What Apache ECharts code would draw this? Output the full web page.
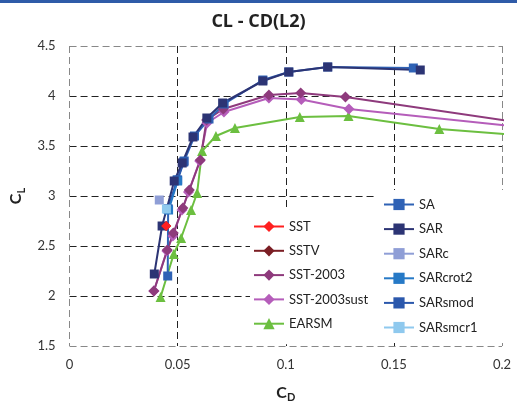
<!DOCTYPE html>
<html>
<head>
<meta charset="utf-8">
<script src="https://cdn.jsdelivr.net/npm/echarts@6/dist/echarts.min.js"></script>
<style>
  html, body { margin: 0; padding: 0; background: #fff; }
  #chart { width: 517px; height: 408px; }
</style>
</head>
<body>
<div id="chart"></div>
<script>
// Lift coefficient C_L vs drag coefficient C_D for each turbulence model.
// Each point is [C_D, C_L].
const sst        = [[0.0447, 2.70]];
const sstv       = [[0.0447, 2.70]];
const sst2003    = [[0.0390, 2.05], [0.0452, 2.46], [0.0480, 2.63], [0.0524, 2.88], [0.0554, 3.06],
                    [0.0605, 3.36], [0.0634, 3.76], [0.0711, 3.87], [0.0922, 4.01], [0.1069, 4.03],
                    [0.1276, 3.99], [0.2300, 3.665]];
const sst2003sust = [[0.0390, 2.05], [0.0450, 2.45], [0.0478, 2.60], [0.0520, 2.86], [0.0550, 3.04],
                    [0.0602, 3.35], [0.0636, 3.73], [0.0714, 3.84], [0.0922, 3.98], [0.1072, 3.965],
                    [0.1292, 3.87], [0.2300, 3.64]];
const earsm      = [[0.0421, 1.99], [0.0482, 2.42], [0.0516, 2.58], [0.0562, 2.86], [0.0590, 3.03],
                    [0.0613, 3.45], [0.0677, 3.60], [0.0765, 3.68], [0.1065, 3.79], [0.1290, 3.80],
                    [0.1710, 3.67], [0.2300, 3.57]];
const sa         = [[0.0454, 2.20], [0.0456, 2.87], [0.0497, 3.16], [0.0530, 3.35], [0.0578, 3.60],
                    [0.0645, 3.77], [0.0715, 3.92], [0.0894, 4.16], [0.1014, 4.24], [0.1194, 4.29],
                    [0.1590, 4.28]];
const sar        = [[0.0392, 2.22], [0.0428, 2.70], [0.0484, 3.15], [0.0521, 3.33], [0.0571, 3.59],
                    [0.0635, 3.78], [0.0708, 3.93], [0.0894, 4.15], [0.1014, 4.24], [0.1194, 4.29],
                    [0.1622, 4.26]];
const sarc       = [[0.0415, 2.96]];
const sarcrot2   = [[0.0458, 2.86], [0.0500, 3.15]];
const sarsmod    = [[0.0455, 2.87], [0.0500, 3.16], [0.0528, 3.34]];
const sarsmcr1   = [[0.0448, 2.87]];

const xTicks = [0, 0.05, 0.1, 0.15, 0.2];
const yTicks = [1.5, 2, 2.5, 3, 3.5, 4, 4.5];

const legendLeft  = ['SST', 'SSTV', 'SST-2003', 'SST-2003sust', 'EARSM'];
const legendRight = ['SA', 'SAR', 'SARc', 'SARcrot2', 'SARsmod', 'SARsmcr1'];

const FONT = 'Lato, "Open Sans", sans-serif';

function lineSeries(name, data, color, symbol, size) {
  return {
    name: name,
    type: 'line',
    data: data,
    symbol: symbol,
    symbolSize: size,
    showAllSymbol: true,
    lineStyle: { color: color, width: 2 },
    itemStyle: { color: color },
    emphasis: { disabled: true },
    animation: false
  };
}

const chart = echarts.init(document.getElementById('chart'), null, { renderer: 'canvas' });

const legendText = { fontFamily: FONT, fontSize: 13, color: '#222' };

chart.setOption({
  backgroundColor: '#fff',
  animation: false,
  title: {
    text: 'CL - CD(L2)',
    left: 'center',
    top: 8,
    textStyle: { fontFamily: '"Open Sans", sans-serif', fontSize: 18, fontWeight: 'bold', color: '#222' }
  },
  graphic: [
    { type: 'rect', left: 0, top: 0, shape: { width: 517, height: 3 }, style: { fill: '#2F5BA8' }, z: 10 }
  ],
  grid: { left: 68, right: 15, top: 46, bottom: 59 },
  xAxis: {
    type: 'value',
    min: xTicks[0],
    max: xTicks[xTicks.length - 1],
    interval: 0.05,
    axisLine: { show: false },
    axisTick: { show: false },
    axisLabel: {
      margin: 12, fontFamily: FONT, fontSize: 13, color: '#333',
      formatter: v => String(+v.toFixed(2))
    },
    splitLine: {
      show: true,
      lineStyle: { color: ['#888', '#222', '#222', '#222'], type: [7, 4], width: 1 }
    },
    name: '{c|C}{s|D}',
    nameLocation: 'middle',
    nameGap: 36,
    nameTextStyle: {
      rich: {
        c: { fontFamily: FONT, fontSize: 16, fontWeight: 'bold', color: '#222' },
        s: { fontFamily: FONT, fontSize: 11, fontWeight: 'bold', color: '#222', padding: [10, 0, 0, 0] }
      }
    }
  },
  yAxis: {
    type: 'value',
    min: yTicks[0],
    max: yTicks[yTicks.length - 1],
    interval: 0.5,
    axisLine: { show: false },
    axisTick: { show: false },
    axisLabel: {
      margin: 14, fontFamily: FONT, fontSize: 13, color: '#333',
      formatter: v => String(+v.toFixed(1))
    },
    splitLine: {
      show: true,
      lineStyle: { color: ['#888', '#222', '#222', '#222', '#222', '#222'], type: [7, 4], width: 1 }
    },
    name: '{c|C}{s|L}',
    nameLocation: 'middle',
    nameGap: 37,
    nameRotate: 90,
    nameTextStyle: {
      rich: {
        c: { fontFamily: FONT, fontSize: 16, fontWeight: 'bold', color: '#222' },
        s: { fontFamily: FONT, fontSize: 11, fontWeight: 'bold', color: '#222', padding: [10, 0, 0, 0] }
      }
    }
  },
  legend: [
    {
      data: legendLeft,
      orient: 'vertical',
      left: 250,
      top: 207,
      padding: [13, 11, 14, 3],
      itemGap: 11.3,
      itemWidth: 30,
      itemHeight: 14,
      backgroundColor: '#fff',
      textStyle: legendText,
      selectedMode: false
    },
    {
      data: legendRight,
      orient: 'vertical',
      left: 375,
      top: 190,
      padding: [8, 26, 7, 8],
      itemGap: 11.6,
      itemWidth: 30,
      itemHeight: 14,
      backgroundColor: '#fff',
      textStyle: legendText,
      selectedMode: false
    }
  ],
  series: [
    lineSeries('EARSM', earsm, '#6CBF40', 'triangle', 10),
    lineSeries('SST-2003sust', sst2003sust, '#B55DBA', 'diamond', 11),
    lineSeries('SST-2003', sst2003, '#8E3A7C', 'diamond', 11),
    lineSeries('SA', sa, '#2F62B5', 'rect', 9),
    lineSeries('SARsmod', sarsmod, '#2B58AC', 'rect', 9),
    lineSeries('SARcrot2', sarcrot2, '#2679C6', 'rect', 9),
    lineSeries('SAR', sar, '#2C3474', 'rect', 9),
    lineSeries('SARc', sarc, '#8F9ED6', 'rect', 9),
    lineSeries('SARsmcr1', sarsmcr1, '#8FC9EE', 'rect', 9),
    lineSeries('SSTV', sstv, '#7B1E24', 'diamond', 10),
    lineSeries('SST', sst, '#FF2020', 'diamond', 10)
  ]
});
</script>
</body>
</html>
